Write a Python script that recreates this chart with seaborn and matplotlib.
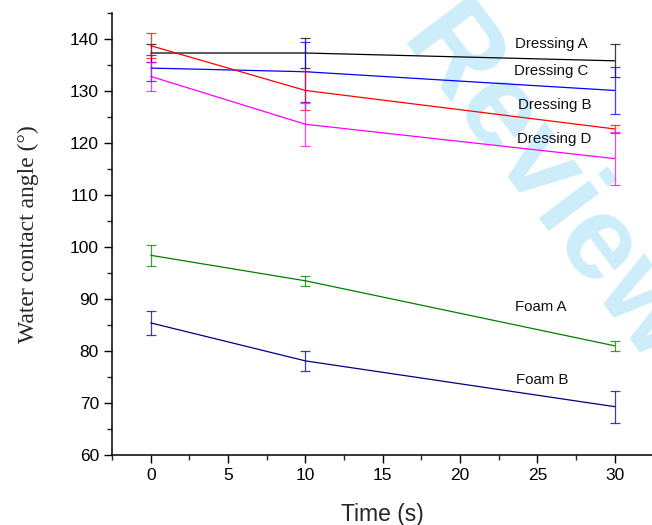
import numpy as np
import pandas as pd
import matplotlib
matplotlib.use("Agg")
import matplotlib.pyplot as plt
import seaborn as sns
from matplotlib.ticker import MultipleLocator

# ---- data ----
time_s = [0, 10, 30]
series_names = ["Dressing A", "Dressing C", "Dressing B", "Dressing D", "Foam A", "Foam B"]
dressing_a = [137.3, 137.3, 135.8]
dressing_a_err = [1.75, 2.9, 3.2]
dressing_c = [134.4, 133.7, 130.1]
dressing_c_err = [2.5, 5.8, 4.6]
dressing_b = [138.7, 130.1, 122.7]
dressing_b_err = [2.45, 3.7, 0.85]
dressing_d = [132.8, 123.6, 117.0]
dressing_d_err = [2.8, 4.15, 5.1]
foam_a = [98.4, 93.5, 81.0]
foam_a_err = [2.0, 1.0, 1.0]
foam_b = [85.4, 78.1, 69.3]
foam_b_err = [2.35, 1.85, 3.1]
colors = ["#000000", "#0000ff", "#ff0000", "#ff00ff", "#008000", "#000080"]
label_x = [25.9, 25.9, 26.1, 26.1, 25.2, 25.3]
label_y = [139.0, 133.8, 127.3, 120.8, 88.5, 74.4]

values = [dressing_a, dressing_c, dressing_b, dressing_d, foam_a, foam_b]
errors = [dressing_a_err, dressing_c_err, dressing_b_err, dressing_d_err, foam_a_err, foam_b_err]

df = pd.DataFrame({
    "time": np.tile(time_s, len(series_names)),
    "angle": np.concatenate(values),
    "err": np.concatenate(errors),
    "series": np.repeat(series_names, len(time_s)),
})

sns.set_style("ticks")
plt.rcParams["font.family"] = ["Liberation Sans", "DejaVu Sans"]

fig = plt.figure(figsize=(6.52, 5.25), dpi=100)
ax = fig.add_axes([0.172, 0.1333, 0.83, 0.842])

# watermark
ax.text(0.838, 0.64, "Review", transform=fig.transFigure, rotation=-53,
        rotation_mode="anchor", ha="center", va="center", fontsize=86,
        fontweight="bold", color="#cdedfb", zorder=0, clip_on=False)

palette = dict(zip(series_names, colors))
sns.lineplot(data=df, x="time", y="angle", hue="series", palette=palette,
             ax=ax, legend=False, linewidth=0.9, estimator=None, sort=False, zorder=3)

for name, c in zip(series_names, colors):
    sub = df[df["series"] == name]
    ax.errorbar(sub["time"], sub["angle"], yerr=sub["err"], fmt="none",
                ecolor=c, elinewidth=0.9, capsize=3.4, capthick=0.9, alpha=0.75, zorder=3)

for name, x, y in zip(series_names, label_x, label_y):
    ax.text(x, y, name, ha="center", va="center", fontsize=10.8, color="#111111", zorder=4)

ax.set_xlim(-2.5, 32.5)
ax.set_ylim(60, 145)
ax.xaxis.set_major_locator(MultipleLocator(5))
ax.xaxis.set_minor_locator(MultipleLocator(2.5))
ax.yaxis.set_major_locator(MultipleLocator(10))
ax.yaxis.set_minor_locator(MultipleLocator(5))
ax.tick_params(axis="both", which="major", direction="out", length=6, width=1,
               labelsize=12.5, colors="black")
ax.tick_params(axis="both", which="minor", direction="out", length=3.5, width=1)
ax.set_yticks([60, 70, 80, 90, 100, 110, 120, 130, 140])

for s in ["top", "right"]:
    ax.spines[s].set_visible(False)
for s in ["left", "bottom"]:
    ax.spines[s].set_linewidth(1.1)
    ax.spines[s].set_color("black")

ax.set_xlabel("Time (s)", fontsize=16.5, labelpad=14)
ax.set_ylabel("Water contact angle (°)", fontsize=17,
              family=["Liberation Serif", "DejaVu Serif"], labelpad=22)

fig.savefig("out.png", dpi=100)
